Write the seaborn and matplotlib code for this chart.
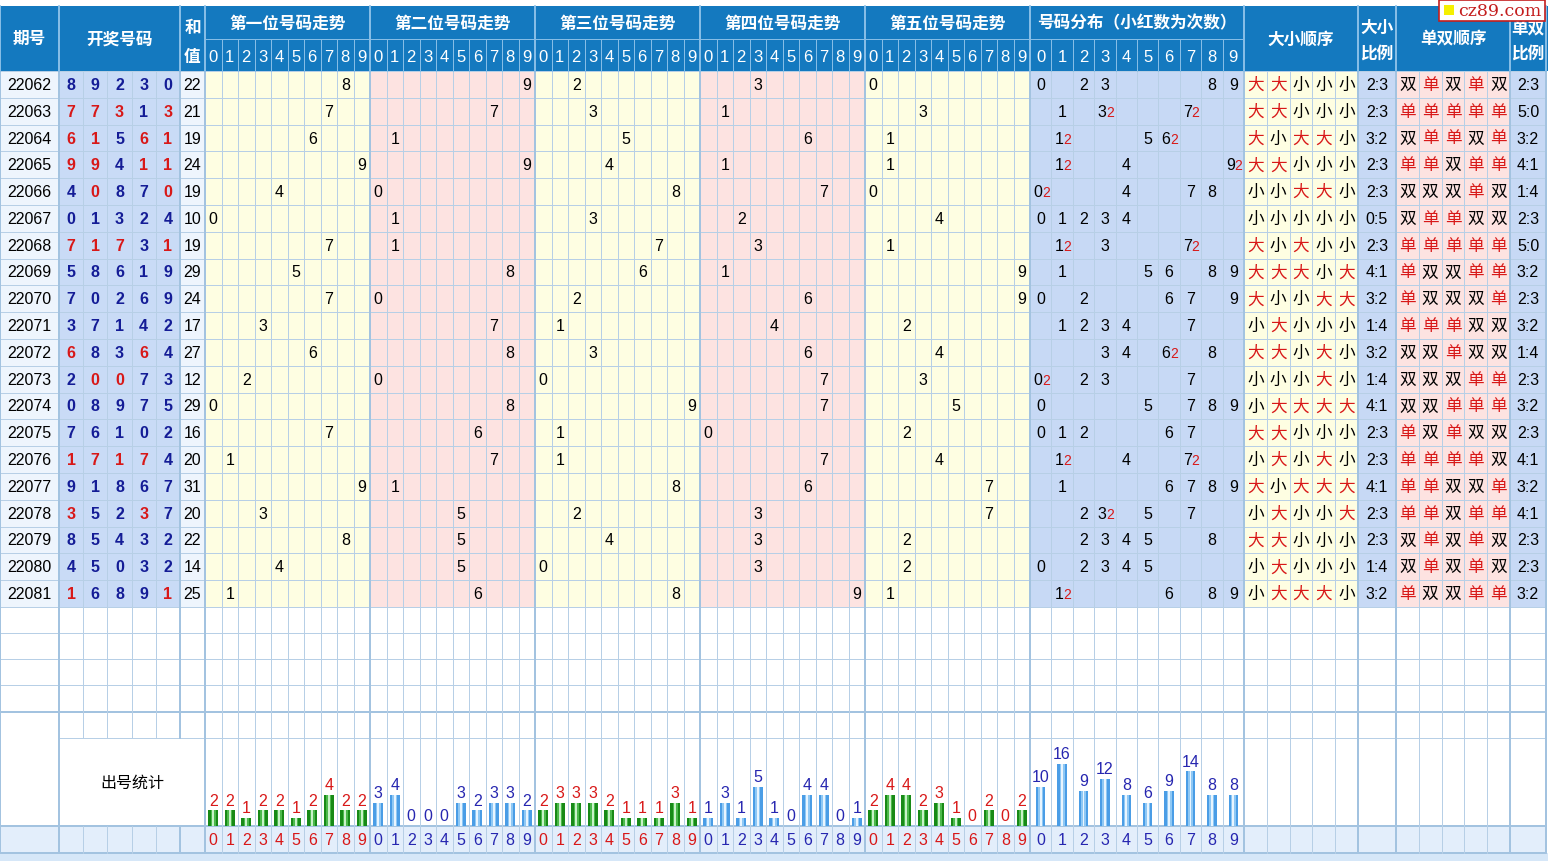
import numpy as np
import pandas as pd
import matplotlib
matplotlib.use("Agg")
import matplotlib.pyplot as plt
import seaborn as sns
from matplotlib.patches import Rectangle

sns.set_theme(style="white")
plt.rcParams['font.family'] = ['Liberation Sans', 'Noto Sans CJK SC', 'DejaVu Sans']

# ---------------- data ----------------
periods = [22062, 22063, 22064, 22065, 22066, 22067, 22068, 22069, 22070, 22071,
           22072, 22073, 22074, 22075, 22076, 22077, 22078, 22079, 22080, 22081]
pos1 = [8, 7, 6, 9, 4, 0, 7, 5, 7, 3, 6, 2, 0, 7, 1, 9, 3, 8, 4, 1]
pos2 = [9, 7, 1, 9, 0, 1, 1, 8, 0, 7, 8, 0, 8, 6, 7, 1, 5, 5, 5, 6]
pos3 = [2, 3, 5, 4, 8, 3, 7, 6, 2, 1, 3, 0, 9, 1, 1, 8, 2, 4, 0, 8]
pos4 = [3, 1, 6, 1, 7, 2, 3, 1, 6, 4, 6, 7, 7, 0, 7, 6, 3, 3, 3, 9]
pos5 = [0, 3, 1, 1, 0, 4, 1, 9, 9, 2, 4, 3, 5, 2, 4, 7, 7, 2, 2, 1]
sums = [22, 21, 19, 24, 19, 10, 19, 29, 24, 17, 27, 12, 29, 16, 20, 31, 20, 22, 14, 25]

digit_labels = ['0', '1', '2', '3', '4', '5', '6', '7', '8', '9']
stat_p1 = [2, 2, 1, 2, 2, 1, 2, 4, 2, 2]
stat_p2 = [3, 4, 0, 0, 0, 3, 2, 3, 3, 2]
stat_p3 = [2, 3, 3, 3, 2, 1, 1, 1, 3, 1]
stat_p4 = [1, 3, 1, 5, 1, 0, 4, 4, 0, 1]
stat_p5 = [2, 4, 4, 2, 3, 1, 0, 2, 0, 2]
stat_dist = [10, 16, 9, 12, 8, 6, 9, 14, 8, 8]

section_titles = ['第一位号码走势', '第二位号码走势', '第三位号码走势', '第四位号码走势', '第五位号码走势']

# ---------------- geometry (pixels) ----------------
W, H = 1548, 862
fig = plt.figure(figsize=(W / 100, H / 100), dpi=100)
ax = fig.add_axes([0, 0, 1, 1])
ax.set_xlim(0, W)
ax.set_ylim(H, 0)
ax.axis('off')

X_PER = (0, 59)
X_DRAW = (59, 180)
X_SUM = (180, 205)
POS_X0 = 205
POS_W = 165
X_DIST = (1030, 1244)
X_BS = (1244, 1358)
X_BSR = (1358, 1396)
X_OE = (1396, 1510)
X_OER = (1510, 1546)

Y_TOP = 7
Y_H1 = 40
Y_H2 = 72
ROW_H = 26.8
N = len(periods)
Y_DATA_END = Y_H2 + ROW_H * N
Y_EMPTY = [Y_DATA_END, 634, 660, 686, 713, 739]
Y_STAT = (739, 827)
Y_AXIS = (827, 854)

HEAD = '#1479bf'
HEAD_LINE = '#86bde6'
GRID = '#b7cfe6'
GRID_T = '#a3c3e0'
C_LIGHT = '#eef5fd'
C_DRAW = '#c9dbf6'
C_YEL = '#fefee2'
C_PINK = '#fde3e1'
C_BLUE = '#c7d9f5'
C_AXROW = '#e3eefb'
RED = '#d81818'
NAVY = '#141c96'
BLUE_TXT = '#2626b0'

FS = 11.5
px = 0.72


def rect(x0, y0, x1, y1, c, z=1):
    ax.add_patch(Rectangle((x0, y0), x1 - x0, y1 - y0, facecolor=c, edgecolor='none', zorder=z))


def txt(x, y, s, c='black', fs=FS, w='normal', ha='center', z=5, **kw):
    ax.text(x, y, s, color=c, fontsize=fs, fontweight=w, ha=ha, va='center', zorder=z, **kw)


def sub_edges(x0, x1, n):
    return [x0 + (x1 - x0) * i / n for i in range(n + 1)]


def centers(x0, x1, n):
    return [x0 + (x1 - x0) * (i + 0.5) / n for i in range(n)]


pos_ranges = [(POS_X0 + POS_W * k, POS_X0 + POS_W * (k + 1)) for k in range(5)]
draws = [pos1, pos2, pos3, pos4, pos5]

# ---------------- header ----------------
rect(0, Y_TOP, W, Y_H2, HEAD)
txt(np.mean(X_PER), (Y_TOP + Y_H2) / 2, '期号', 'white', 12, 'bold')
txt(np.mean(X_DRAW), (Y_TOP + Y_H2) / 2, '开奖号码', 'white', 12, 'bold')
txt(np.mean(X_SUM), 28, '和', 'white', 12, 'bold')
txt(np.mean(X_SUM), 57, '值', 'white', 12, 'bold')
for k, (a, b) in enumerate(pos_ranges):
    txt((a + b) / 2, 23.5, section_titles[k], 'white', 12, 'bold')
    for i, cx in enumerate(centers(a, b, 10)):
        txt(cx, 57, digit_labels[i], 'white', 12)
    for e in sub_edges(a, b, 10)[1:-1]:
        ax.plot([e, e], [Y_H1, Y_H2], color=HEAD_LINE, lw=px, zorder=3)
    ax.plot([a, b], [Y_H1, Y_H1], color=HEAD_LINE, lw=px, zorder=3)
txt(np.mean(X_DIST), 23.5, '号码分布（小红数为次数）', 'white', 12, 'bold')
for i, cx in enumerate(centers(*X_DIST, 10)):
    txt(cx, 57, digit_labels[i], 'white', 12)
for e in sub_edges(*X_DIST, 10)[1:-1]:
    ax.plot([e, e], [Y_H1, Y_H2], color=HEAD_LINE, lw=px, zorder=3)
ax.plot(list(X_DIST), [Y_H1, Y_H1], color=HEAD_LINE, lw=px, zorder=3)
txt(np.mean(X_BS), (Y_TOP + Y_H2) / 2, '大小顺序', 'white', 12, 'bold')
txt(np.mean(X_BSR), 28, '大小', 'white', 12, 'bold')
txt(np.mean(X_BSR), 54, '比例', 'white', 12, 'bold')
txt(np.mean(X_OE), (Y_TOP + Y_H2) / 2, '单双顺序', 'white', 12, 'bold')
txt(np.mean(X_OER), 28, '单双', 'white', 12, 'bold')
txt(np.mean(X_OER), 54, '比例', 'white', 12, 'bold')
major_x = [X_PER[0], X_PER[1], X_DRAW[1], X_SUM[1]] + [b for a, b in pos_ranges] + \
          [X_DIST[1], X_BS[1], X_BSR[1], X_OE[1], X_OER[1]]
for e in major_x:
    ax.plot([e, e], [Y_TOP, Y_H2], color=HEAD_LINE, lw=2 * px, zorder=3)

# ---------------- body backgrounds ----------------
rect(0, Y_H2, W, H, 'white', 0)
rect(X_PER[0], Y_H2, X_PER[1], Y_DATA_END, C_LIGHT)
rect(X_DRAW[0], Y_H2, X_DRAW[1], Y_DATA_END, C_DRAW)
rect(X_SUM[0], Y_H2, X_SUM[1], Y_DATA_END, C_LIGHT)
for k, (a, b) in enumerate(pos_ranges):
    rect(a, Y_H2, b, Y_DATA_END, C_YEL if k % 2 == 0 else C_PINK)
rect(X_DIST[0], Y_H2, X_DIST[1], Y_DATA_END, C_BLUE)
rect(X_BS[0], Y_H2, X_BS[1], Y_DATA_END, C_YEL)
rect(X_BSR[0], Y_H2, X_BSR[1], Y_DATA_END, C_BLUE)
rect(X_OE[0], Y_H2, X_OE[1], Y_DATA_END, C_PINK)
rect(X_OER[0], Y_H2, X_OER[1], Y_DATA_END, C_BLUE)
rect(0, Y_AXIS[0], X_OER[1], Y_AXIS[1], C_AXROW)
rect(0, Y_AXIS[1], W, H, '#d6e7f8')

# ---------------- grid lines ----------------
row_edges = [Y_H2 + ROW_H * i for i in range(N + 1)]
for y in row_edges + Y_EMPTY[1:5]:
    ax.plot([0, X_OER[1]], [y, y], color=GRID, lw=px, zorder=2)
ax.plot([X_PER[1], X_OER[1]], [739, 739], color=GRID, lw=px, zorder=2)
ax.plot([0, X_OER[1]], [713, 713], color=GRID_T, lw=2 * px, zorder=2)
for y in Y_AXIS:
    ax.plot([0, X_OER[1]], [y, y], color=GRID_T, lw=2 * px, zorder=2)

sub_lines = []
for e in sub_edges(*X_DRAW, 5)[1:-1]:
    sub_lines.append((e, [(Y_H2, 739), Y_AXIS]))
for a, b in pos_ranges:
    for e in sub_edges(a, b, 10)[1:-1]:
        sub_lines.append((e, [(Y_H2, Y_AXIS[1])]))
for rng, n in [(X_DIST, 10), (X_BS, 5), (X_OE, 5)]:
    for e in sub_edges(*rng, n)[1:-1]:
        sub_lines.append((e, [(Y_H2, Y_AXIS[1])]))
for e, spans in sub_lines:
    for y0, y1 in spans:
        ax.plot([e, e], [y0, y1], color=GRID, lw=px, zorder=2)
for e in major_x:
    ax.plot([e, e], [Y_H2, Y_AXIS[1]], color=GRID_T, lw=2 * px, zorder=2)
ax.plot([X_SUM[0], X_SUM[0]], [Y_H2, 739], color=GRID_T, lw=2 * px, zorder=2)
ax.plot([X_SUM[0], X_SUM[0]], list(Y_AXIS), color=GRID_T, lw=2 * px, zorder=2)

# ---------------- data rows ----------------
dist_cx = centers(*X_DIST, 10)
bs_cx = centers(*X_BS, 5)
oe_cx = centers(*X_OE, 5)
draw_cx = centers(*X_DRAW, 5)
for i in range(N):
    cy = Y_H2 + ROW_H * (i + 0.5)
    row = [d[i] for d in draws]
    txt(np.mean(X_PER), cy, str(periods[i]))
    for j, v in enumerate(row):
        col = RED if row.count(v) > 1 else NAVY
        txt(draw_cx[j], cy, str(v), col, FS, 'bold')
    txt(np.mean(X_SUM), cy, str(sums[i]))
    for k, (a, b) in enumerate(pos_ranges):
        txt(centers(a, b, 10)[row[k]], cy, str(row[k]))
    for v in sorted(set(row)):
        c = row.count(v)
        if c > 1:
            txt(dist_cx[v] - 3, cy, str(v))
            txt(dist_cx[v] + 5, cy + 0.5, str(c), RED, 10)
        else:
            txt(dist_cx[v], cy, str(v))
    big = 0
    odd = 0
    for j, v in enumerate(row):
        if v >= 5:
            big += 1
            txt(bs_cx[j], cy, '大', RED, 12)
        else:
            txt(bs_cx[j], cy, '小', 'black', 12)
        if v % 2 == 1:
            odd += 1
            txt(oe_cx[j], cy, '单', RED, 12)
        else:
            txt(oe_cx[j], cy, '双', 'black', 12)
    txt(np.mean(X_BSR), cy, f'{big}:{5 - big}')
    txt(np.mean(X_OER), cy, f'{odd}:{5 - odd}')

# ---------------- statistics row ----------------
rect(X_PER[1] + 1, 739 + 1, X_SUM[1] - 1, 827 - 1, 'white', 3)
txt((X_PER[1] + X_SUM[1]) / 2, 783, '出号统计', 'black', 11.5)

GREEN_SHADES = ['#178a17', '#4cb94c', '#c9f2c9']
BLUE_SHADES = ['#4a9de6', '#8fc8f4', '#e8f5ff']
stat_sets = [(pos_ranges[0], stat_p1, 'g'), (pos_ranges[1], stat_p2, 'b'),
             (pos_ranges[2], stat_p3, 'g'), (pos_ranges[3], stat_p4, 'b'),
             (pos_ranges[4], stat_p5, 'g'), (X_DIST, stat_dist, 'b')]
for (a, b), vals, kind in stat_sets:
    is_dist = (a, b) == X_DIST
    per_unit = 3.9 if is_dist else 7.8
    width = 0.44 if is_dist else 0.6
    shades = GREEN_SHADES if kind == 'g' else BLUE_SHADES
    lab_col = RED if kind == 'g' else BLUE_TXT
    sax = fig.add_axes([a / W, (H - Y_STAT[1]) / H, (b - a) / W, (Y_STAT[1] - Y_STAT[0]) / H])
    sax.patch.set_alpha(0)
    df = pd.DataFrame({'digit': digit_labels, 'count': vals})
    for shade, frac in zip(shades, [1.0, 0.55, 0.2]):
        sns.barplot(data=df, x='digit', y='count', order=digit_labels, color=shade, saturation=1,
                    width=width * frac, errorbar=None, ax=sax, linewidth=0, edgecolor='none')
    sax.set_xlim(-0.5, 9.5)
    sax.set_ylim(0, (Y_STAT[1] - Y_STAT[0]) / per_unit)
    sax.axis('off')
    for i, v in enumerate(vals):
        sax.annotate(str(v), (i, v), xytext=(0, 2), textcoords='offset points', ha='center',
                     va='bottom', color=lab_col, fontsize=FS, annotation_clip=False)
    for i, cx in enumerate(centers(a, b, 10)):
        txt(cx, np.mean(Y_AXIS), digit_labels[i], lab_col, FS)

# ---------------- watermark ----------------
ax.add_patch(Rectangle((1439, 0.5), 106, 21, facecolor='white', edgecolor='#c41e1e', lw=1.2, zorder=8))
rect(1444, 6, 1454, 16, '#f5f000', 9)
ax.text(1458, 11.5, 'cz89.com', color='#c41e1e', fontsize=12.5, family='DejaVu Serif',
        ha='left', va='center', zorder=9)

fig.savefig('out.png', dpi=100)
